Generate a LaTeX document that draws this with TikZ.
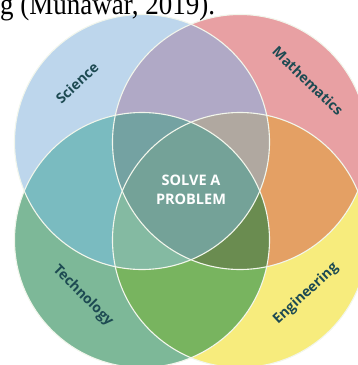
\documentclass[tikz,border=0pt]{standalone}
\usepackage{fontspec}
\setmainfont{Liberation Serif}
\newfontfamily\labelfont{Open Sans}

% region colours
\definecolor{sciC}{HTML}{BDD6EC}
\definecolor{matC}{HTML}{E8A0A3}
\definecolor{tecC}{HTML}{7DB898}
\definecolor{engC}{HTML}{F7EC7D}
\definecolor{smC}{HTML}{B0A9C6}
\definecolor{stC}{HTML}{7ABBC0}
\definecolor{meC}{HTML}{E4A064}
\definecolor{teC}{HTML}{78B45F}
\definecolor{smtC}{HTML}{74A2A2}
\definecolor{smeC}{HTML}{B0A8A0}
\definecolor{steC}{HTML}{84BAA2}
\definecolor{mteC}{HTML}{6A8C50}
\definecolor{allC}{HTML}{74A298}
\definecolor{ringC}{HTML}{F2F6EC}
\definecolor{labelC}{HTML}{1D4A52}

\tikzset{
  ring/.style={draw=ringC, line width=1.1pt},
  setlabel/.style={font=\labelfont\bfseries\fontsize{14}{14}\selectfont, text=labelC, inner sep=0pt},
  centrelabel/.style={font=\labelfont\bfseries\fontsize{14.5}{19}\selectfont, text=white, align=center, inner sep=0pt},
}

\begin{document}
\begin{tikzpicture}[x=1pt,y=-1pt]
\useasboundingbox (0,0) rectangle (358,365);
\clip (0,0) rectangle (358,365);

\def\R{127.5}
\def\circS{(142,142) circle[radius=\R]}
\def\circM{(240,142) circle[radius=\R]}
\def\circT{(142,240) circle[radius=\R]}
\def\circE{(240,240) circle[radius=\R]}

% single sets
\fill[sciC] \circS;
\fill[matC] \circM;
\fill[tecC] \circT;
\fill[engC] \circE;

% pairwise overlaps
\begin{scope}
  \clip \circS;
  \fill[smC] \circM;
  \fill[stC] \circT;
\end{scope}
\begin{scope}
  \clip \circE;
  \fill[meC] \circM;
  \fill[teC] \circT;
\end{scope}

% triple overlaps
\begin{scope}
  \clip \circS; \clip \circM;
  \fill[smtC] \circT;
  \fill[smeC] \circE;
\end{scope}
\begin{scope}
  \clip \circT; \clip \circE;
  \fill[steC] \circS;
  \fill[mteC] \circM;
\end{scope}

% all four
\begin{scope}
  \clip \circS; \clip \circM; \clip \circT;
  \fill[allC] \circE;
\end{scope}

% circle outlines
\draw[ring] \circS;
\draw[ring] \circM;
\draw[ring] \circT;
\draw[ring] \circE;

% set names
\node[setlabel, rotate=43] (science) at (77,83) {Science};
\node[setlabel, rotate=-44] (maths) at (308,81) {Mathematics};
\node[setlabel, rotate=-45] (tech) at (83,296) {Technology};
\node[setlabel, rotate=43] (eng) at (306,294) {Engineering};
\node[centrelabel] (solve) at (191,190) {SOLVE A\\PROBLEM};

% citation line above the figure
\node[anchor=base west, inner sep=0pt, xscale=0.9,
      font=\fontsize{30}{30}\selectfont] (cite) at (0,14) {g (Munawar, 2019).};
\end{tikzpicture}
\end{document}
